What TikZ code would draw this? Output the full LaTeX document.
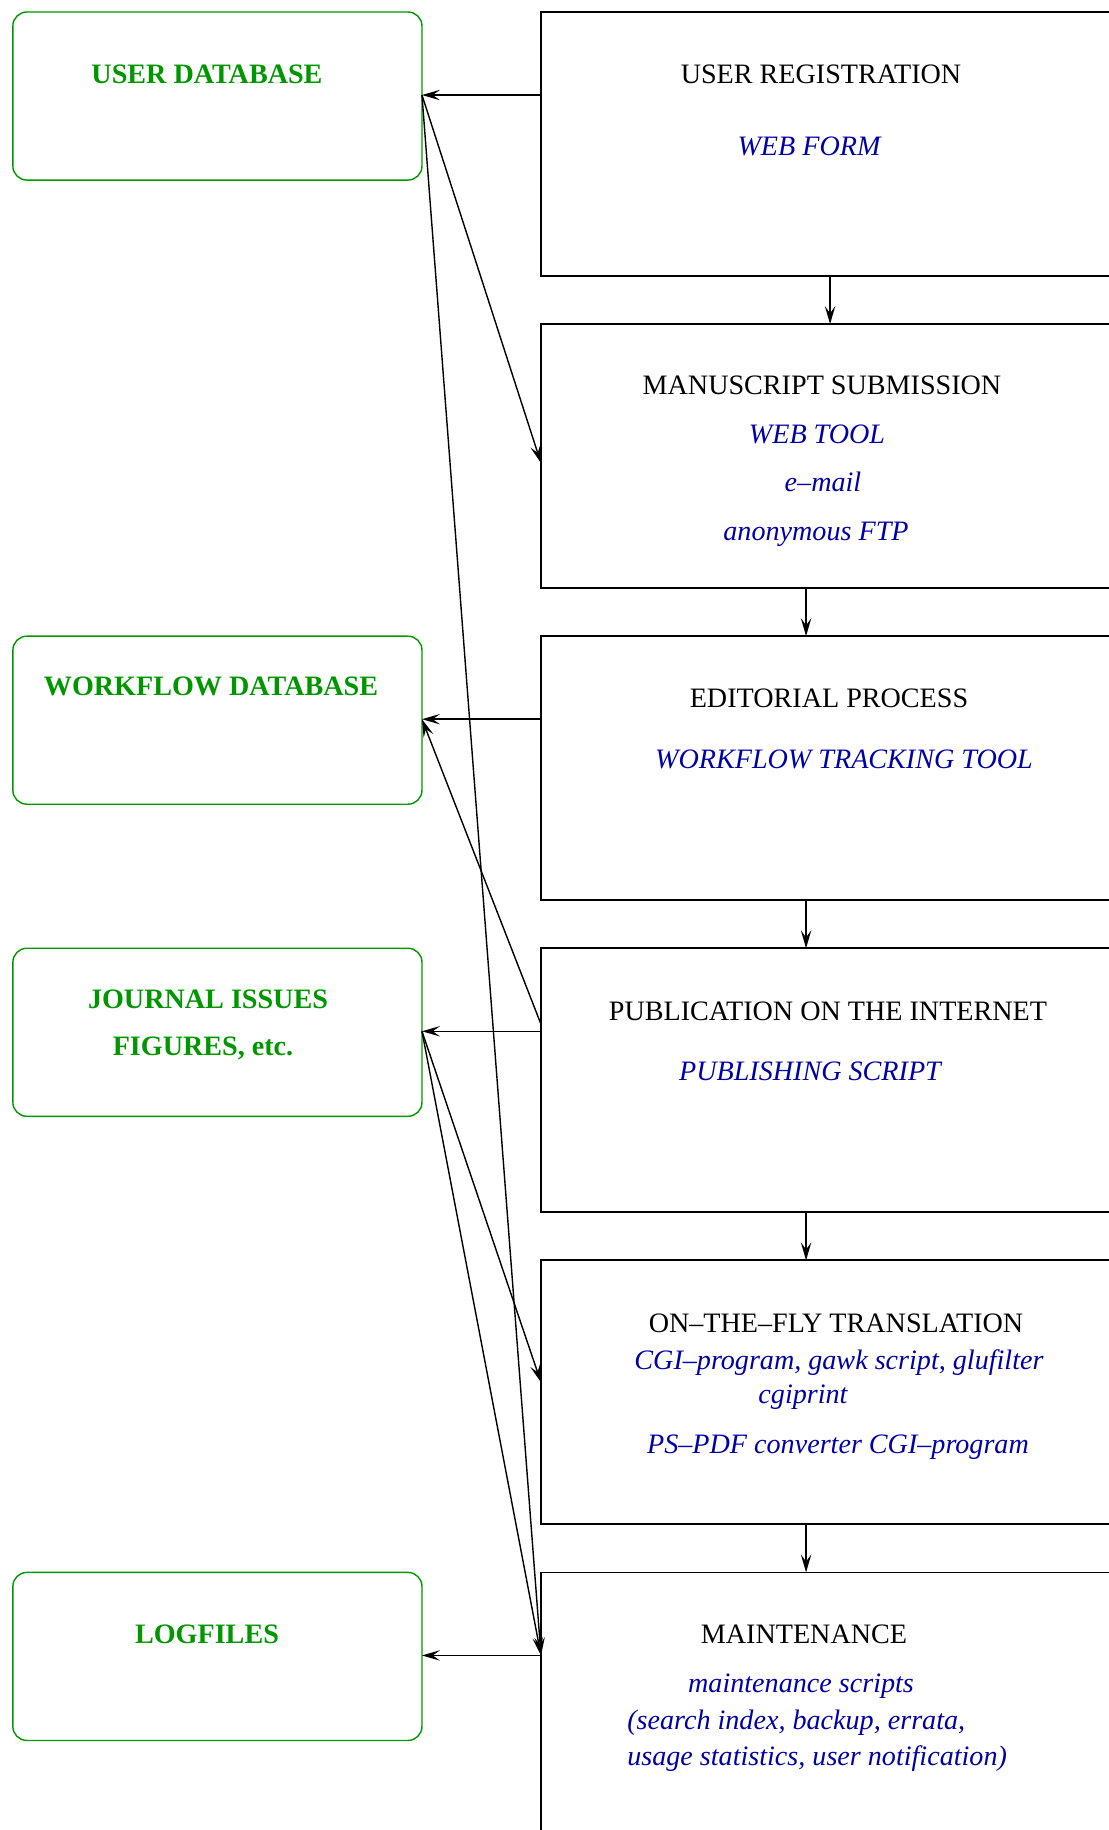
\documentclass[tikz,border=0pt]{standalone}
\usepackage{fontspec}
\setmainfont{Liberation Serif}
\usetikzlibrary{arrows.meta, positioning, calc}
\definecolor{dbgreen}{RGB}{0,150,0}
\definecolor{toolblue}{RGB}{0,0,165}
\tikzstyle{stepbox} = [rectangle, draw=black, line width=1.3pt, minimum width=14.35cm,
                       minimum height=6.6cm, inner sep=0pt, outer sep=0pt]
\tikzstyle{dbbox} = [rectangle, rounded corners=0.35cm, draw=dbgreen, line width=1pt,
                     minimum width=10.225cm, minimum height=4.2cm, inner sep=0pt, outer sep=0pt]
\tikzstyle{steptext} = [font=\fontsize{20}{24}\selectfont, anchor=base, inner sep=0pt]
\tikzstyle{tooltext} = [font=\fontsize{20}{24}\selectfont\itshape, text=toolblue, anchor=base, inner sep=0pt]
\tikzstyle{dbtext} = [font=\fontsize{20}{24}\selectfont\bfseries, text=dbgreen, anchor=base, inner sep=0pt]
\tikzstyle{arrow} = [line width=1pt, -{Stealth[length=4.5mm, width=2.6mm, inset=1.8mm]}]

\begin{document}
\begin{tikzpicture}[x=0.025cm, y=-0.025cm, node distance=1.2cm]
    \useasboundingbox (0,0) rectangle (1109,1830);

    % Column 1: workflow steps
    \node[stepbox, anchor=north west] (reg) at (541,12) {};
    \node[stepbox, below=of reg] (sub) {};
    \node[stepbox, below=of sub] (edit) {};
    \node[stepbox, below=of edit] (pub) {};
    \node[stepbox, below=of pub] (trans) {};
    \node[stepbox, below=of trans] (maint) {};

    % Column 2: data stores
    \node[dbbox, anchor=north east] (userdb) at ([xshift=-2.975cm]reg.north west) {};
    \node[dbbox, anchor=north east] (workdb) at ([xshift=-2.975cm]edit.north west) {};
    \node[dbbox, anchor=north east] (issuedb) at ([xshift=-2.975cm]pub.north west) {};
    \node[dbbox, anchor=north east] (logdb) at ([xshift=-2.975cm]maint.north west) {};

    % Step texts
    \node[steptext] (regtitle) at (821,83) {USER REGISTRATION};
    \node[tooltext] (regtool) at (809,155) {WEB FORM};
    \node[steptext] (subtitle) at (822,394) {MANUSCRIPT SUBMISSION};
    \node[tooltext] (subtool) at (817,443) {WEB TOOL};
    \node[tooltext] (submail) at (823,491) {e--mail};
    \node[tooltext] (subftp) at (816,540) {anonymous FTP};
    \node[steptext] (edittitle) at (829,707) {EDITORIAL PROCESS};
    \node[tooltext] (edittool) at (844,768) {WORKFLOW TRACKING TOOL};
    \node[steptext] (pubtitle) at (828,1020) {PUBLICATION ON THE INTERNET};
    \node[tooltext] (pubtool) at (810,1080) {PUBLISHING SCRIPT};
    \node[steptext] (transtitle) at (836,1332) {ON--THE--FLY TRANSLATION};
    \node[tooltext] (transcgi) at (839,1369) {CGI--program, gawk script, glufilter};
    \node[tooltext] (transprint) at (803,1403) {cgiprint};
    \node[tooltext] (transpdf) at (838,1453) {PS--PDF converter CGI--program};
    \node[steptext] (mainttitle) at (804,1643) {MAINTENANCE};
    \node[tooltext] (maintscr) at (801,1692) {maintenance scripts};
    \node[tooltext, anchor=base west] (maintlist) at (627,1729) {(search index, backup, errata,};
    \node[tooltext, anchor=base west] (maintstat) at (627,1765) {usage statistics, user notification)};

    % Store texts
    \node[dbtext] (userdbtext) at (207,83) {USER DATABASE};
    \node[dbtext] (workdbtext) at (211,695) {WORKFLOW DATABASE};
    \node[dbtext] (issuetext) at (208,1008) {JOURNAL ISSUES};
    \node[dbtext] (figtext) at (203,1055) {FIGURES, etc.};
    \node[dbtext] (logtext) at (207,1643) {LOGFILES};

    % Arrows down the steps
    \draw[arrow] ([xshift=7.225cm]reg.south west) -- ([xshift=7.225cm]sub.north west);
    \draw[arrow] ([xshift=6.625cm]sub.south west) -- ([xshift=6.625cm]edit.north west);
    \draw[arrow] ([xshift=6.625cm]edit.south west) -- ([xshift=6.625cm]pub.north west);
    \draw[arrow] ([xshift=6.625cm]pub.south west) -- ([xshift=6.625cm]trans.north west);
    \draw[arrow] ([xshift=6.625cm]trans.south west) -- ([xshift=6.625cm]maint.north west);

    % Ports on the box sides
    \coordinate (regout) at ([yshift=-2.075cm]reg.north west);
    \coordinate (editout) at ([yshift=-2.075cm]edit.north west);
    \coordinate (pubout) at ([yshift=-2.075cm]pub.north west);
    \coordinate (maintout) at ([yshift=-2.075cm]maint.north west);
    \coordinate (pubup) at ([yshift=-1.9cm]pub.north west);
    \coordinate (subin) at ([yshift=-3.475cm]sub.north west);
    \coordinate (transin) at ([yshift=-3.05cm]trans.north west);
    \coordinate (udb) at (regout -| userdb.east);
    \coordinate (wdb) at (editout -| workdb.east);
    \coordinate (jdb) at (pubout -| issuedb.east);

    % Arrows to the stores
    \draw[arrow] (regout) -- (udb);
    \draw[arrow] (editout) -- (wdb);
    \draw[arrow] (pubout) -- (jdb);
    \draw[arrow] (maintout) -- (maintout -| logdb.east);

    % Arrows across
    \draw[arrow] (udb) -- (subin);
    \draw[arrow] (udb) -- (maintout);
    \draw[arrow] (pubup) -- (wdb);
    \draw[arrow] (jdb) -- (transin);
    \draw[arrow] (jdb) -- (maintout);
\end{tikzpicture}
\end{document}
